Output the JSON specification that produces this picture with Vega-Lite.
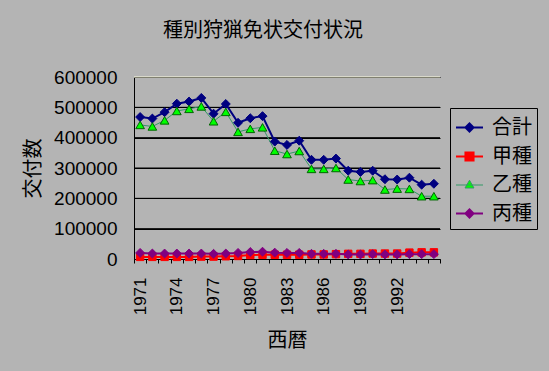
{
  "$schema": "https://vega.github.io/schema/vega-lite/v6.json",
  "width": 306,
  "height": 182,
  "autosize": {"type": "none"},
  "padding": {"left": 134, "top": 77, "right": 109, "bottom": 112},
  "background": "#b4b4b4",
  "title": {"text": "種別狩猟免状交付状況", "fontSize": 20, "font": "Noto Sans CJK JP", "fontWeight": "normal", "color": "black", "anchor": "middle", "frame": "group", "dx": -24, "offset": 27},
  "config": {"view": {"stroke": null, "fill": "#b4b4b4"}, "font": "Liberation Sans"},
  "data": {"values": [
    {"year": 1971, "series": "合計", "value": 468000},
    {"year": 1972, "series": "合計", "value": 463000},
    {"year": 1973, "series": "合計", "value": 484000},
    {"year": 1974, "series": "合計", "value": 512000},
    {"year": 1975, "series": "合計", "value": 519000},
    {"year": 1976, "series": "合計", "value": 531000},
    {"year": 1977, "series": "合計", "value": 479000},
    {"year": 1978, "series": "合計", "value": 511000},
    {"year": 1979, "series": "合計", "value": 449000},
    {"year": 1980, "series": "合計", "value": 464000},
    {"year": 1981, "series": "合計", "value": 471000},
    {"year": 1982, "series": "合計", "value": 387000},
    {"year": 1983, "series": "合計", "value": 376000},
    {"year": 1984, "series": "合計", "value": 390000},
    {"year": 1985, "series": "合計", "value": 327000},
    {"year": 1986, "series": "合計", "value": 327000},
    {"year": 1987, "series": "合計", "value": 331000},
    {"year": 1988, "series": "合計", "value": 291000},
    {"year": 1989, "series": "合計", "value": 287000},
    {"year": 1990, "series": "合計", "value": 291000},
    {"year": 1991, "series": "合計", "value": 263000},
    {"year": 1992, "series": "合計", "value": 262000},
    {"year": 1993, "series": "合計", "value": 268000},
    {"year": 1994, "series": "合計", "value": 245000},
    {"year": 1995, "series": "合計", "value": 248000},
    {"year": 1971, "series": "甲種", "value": 7000},
    {"year": 1972, "series": "甲種", "value": 7000},
    {"year": 1973, "series": "甲種", "value": 7000},
    {"year": 1974, "series": "甲種", "value": 7000},
    {"year": 1975, "series": "甲種", "value": 7000},
    {"year": 1976, "series": "甲種", "value": 8000},
    {"year": 1977, "series": "甲種", "value": 8000},
    {"year": 1978, "series": "甲種", "value": 9000},
    {"year": 1979, "series": "甲種", "value": 10000},
    {"year": 1980, "series": "甲種", "value": 13000},
    {"year": 1981, "series": "甲種", "value": 14000},
    {"year": 1982, "series": "甲種", "value": 14000},
    {"year": 1983, "series": "甲種", "value": 14000},
    {"year": 1984, "series": "甲種", "value": 14000},
    {"year": 1985, "series": "甲種", "value": 15000},
    {"year": 1986, "series": "甲種", "value": 15000},
    {"year": 1987, "series": "甲種", "value": 16000},
    {"year": 1988, "series": "甲種", "value": 17000},
    {"year": 1989, "series": "甲種", "value": 17000},
    {"year": 1990, "series": "甲種", "value": 18000},
    {"year": 1991, "series": "甲種", "value": 18000},
    {"year": 1992, "series": "甲種", "value": 18000},
    {"year": 1993, "series": "甲種", "value": 21000},
    {"year": 1994, "series": "甲種", "value": 22000},
    {"year": 1995, "series": "甲種", "value": 22000},
    {"year": 1971, "series": "乙種", "value": 442000},
    {"year": 1972, "series": "乙種", "value": 437000},
    {"year": 1973, "series": "乙種", "value": 457000},
    {"year": 1974, "series": "乙種", "value": 488000},
    {"year": 1975, "series": "乙種", "value": 495000},
    {"year": 1976, "series": "乙種", "value": 503000},
    {"year": 1977, "series": "乙種", "value": 454000},
    {"year": 1978, "series": "乙種", "value": 485000},
    {"year": 1979, "series": "乙種", "value": 419000},
    {"year": 1980, "series": "乙種", "value": 429000},
    {"year": 1981, "series": "乙種", "value": 434000},
    {"year": 1982, "series": "乙種", "value": 357000},
    {"year": 1983, "series": "乙種", "value": 346000},
    {"year": 1984, "series": "乙種", "value": 356000},
    {"year": 1985, "series": "乙種", "value": 297000},
    {"year": 1986, "series": "乙種", "value": 297000},
    {"year": 1987, "series": "乙種", "value": 300000},
    {"year": 1988, "series": "乙種", "value": 262000},
    {"year": 1989, "series": "乙種", "value": 257000},
    {"year": 1990, "series": "乙種", "value": 260000},
    {"year": 1991, "series": "乙種", "value": 229000},
    {"year": 1992, "series": "乙種", "value": 232000},
    {"year": 1993, "series": "乙種", "value": 231000},
    {"year": 1994, "series": "乙種", "value": 207000},
    {"year": 1995, "series": "乙種", "value": 207000},
    {"year": 1971, "series": "丙種", "value": 20000},
    {"year": 1972, "series": "丙種", "value": 18000},
    {"year": 1973, "series": "丙種", "value": 18000},
    {"year": 1974, "series": "丙種", "value": 18000},
    {"year": 1975, "series": "丙種", "value": 18000},
    {"year": 1976, "series": "丙種", "value": 18000},
    {"year": 1977, "series": "丙種", "value": 17000},
    {"year": 1978, "series": "丙種", "value": 18000},
    {"year": 1979, "series": "丙種", "value": 20000},
    {"year": 1980, "series": "丙種", "value": 23000},
    {"year": 1981, "series": "丙種", "value": 24000},
    {"year": 1982, "series": "丙種", "value": 21000},
    {"year": 1983, "series": "丙種", "value": 20000},
    {"year": 1984, "series": "丙種", "value": 20000},
    {"year": 1985, "series": "丙種", "value": 17000},
    {"year": 1986, "series": "丙種", "value": 17000},
    {"year": 1987, "series": "丙種", "value": 17000},
    {"year": 1988, "series": "丙種", "value": 15000},
    {"year": 1989, "series": "丙種", "value": 15000},
    {"year": 1990, "series": "丙種", "value": 16000},
    {"year": 1991, "series": "丙種", "value": 15000},
    {"year": 1992, "series": "丙種", "value": 15000},
    {"year": 1993, "series": "丙種", "value": 16000},
    {"year": 1994, "series": "丙種", "value": 16000},
    {"year": 1995, "series": "丙種", "value": 16000}
  ]},
  "encoding": {
    "y": {"field": "value", "type": "quantitative",
      "scale": {"domain": [0, 600000], "nice": false},
      "axis": {"title": "交付数", "titleFont": "Noto Sans CJK JP", "titleFontSize": 20, "titleFontWeight": "normal", "titleColor": "black", "titlePadding": 10,
        "tickCount": 6, "format": "d", "labelOverlap": false, "labelSeparation": 0, "labelFlush": false,
        "labelFontSize": 19, "labelFont": "Liberation Sans", "labelColor": "black",
        "grid": true, "gridColor": "black", "gridOpacity": 1, "gridWidth": 1, "domainColor": "black", "ticks": false, "labelPadding": 17}}
  },
  "layer": [
    {
      "data": {"values": [{"value": 100000}, {"value": 200000}, {"value": 300000}, {"value": 400000}, {"value": 500000}]},
      "mark": {"type": "rule", "color": "black", "strokeWidth": 1},
      "encoding": {}
    },
    {
      "mark": {"type": "line"},
      "encoding": {
        "x": {"field": "year", "type": "ordinal", "bandPosition": 0.5,
          "scale": {"type": "band", "paddingInner": 0, "paddingOuter": 0},
          "axis": {"title": "西暦", "titleFont": "Noto Sans CJK JP", "titleFontSize": 20, "titleFontWeight": "normal", "titleColor": "black", "titlePadding": 16,
            "labelAngle": -90, "labelFontSize": 17, "labelFont": "Liberation Sans", "labelColor": "black", "labelOverlap": false,
            "labelExpr": "(datum.value - 1971) % 3 === 0 && datum.value < 1995 ? datum.label : ''",
            "tickBand": "extent", "tickColor": "black", "tickSize": 4, "domainColor": "black", "labelPadding": 14, "grid": false}},
        "color": {"field": "series", "type": "nominal",
          "scale": {"domain": ["合計", "甲種", "乙種", "丙種"], "range": ["#000080", "#ff0000", "#339966", "#800080"]},
          "legend": {"title": null, "orient": "none", "legendX": 316, "legendY": 31, "strokeColor": "black", "padding": 5,
            "labelFontSize": 20, "labelFont": "Noto Sans CJK JP", "labelColor": "black", "symbolSize": 729, "rowPadding": 4, "labelOffset": 8,
            "encoding": {"symbols": {
              "shape": {"value": {"expr": "datum.value === '甲種' ? 'M-1,0H1M-0.3,-0.3H0.3V0.3H-0.3Z' : datum.value === '乙種' ? 'M-1,0H1M-0.33,0.22L0,-0.35L0.33,0.22Z' : 'M-1,0H1M-0.3,0L0,-0.3L0.3,0L0,0.3Z'"}},
              "fill": {"value": {"expr": "datum.value === '乙種' ? '#00ff00' : datum.value === '甲種' ? '#ff0000' : datum.value === '丙種' ? '#800080' : '#000080'"}},
              "strokeWidth": {"value": {"expr": "datum.value === '乙種' ? 1 : 2"}},
              "opacity": {"value": 1}
            }}}},
        "strokeWidth": {"field": "series", "type": "nominal",
          "scale": {"type": "ordinal", "domain": ["合計", "甲種", "乙種", "丙種"], "range": [2, 2, 1, 2]}, "legend": null}
      }
    },
    {
      "transform": [{"filter": "datum.series === '合計'"}],
      "mark": {"type": "point", "shape": "diamond", "filled": true, "opacity": 1, "fill": "#000080", "stroke": "#000080", "strokeWidth": 1, "size": 80},
      "encoding": {"x": {"field": "year", "type": "ordinal", "bandPosition": 0.5}}
    },
    {
      "transform": [{"filter": "datum.series === '甲種'"}],
      "mark": {"type": "point", "shape": "square", "filled": true, "opacity": 1, "fill": "#ff0000", "stroke": "#ff0000", "strokeWidth": 1, "size": 55},
      "encoding": {"x": {"field": "year", "type": "ordinal", "bandPosition": 0.5}}
    },
    {
      "transform": [{"filter": "datum.series === '乙種'"}],
      "mark": {"type": "point", "shape": "triangle-up", "filled": true, "opacity": 1, "fill": "#00ff00", "stroke": "#006600", "strokeWidth": 1, "size": 75},
      "encoding": {"x": {"field": "year", "type": "ordinal", "bandPosition": 0.5}}
    },
    {
      "transform": [{"filter": "datum.series === '丙種'"}],
      "mark": {"type": "point", "shape": "diamond", "filled": true, "opacity": 1, "fill": "#800080", "stroke": "#800080", "strokeWidth": 1, "size": 80},
      "encoding": {"x": {"field": "year", "type": "ordinal", "bandPosition": 0.5}}
    },
    {
      "data": {"values": [{"value": 600000}]},
      "mark": {"type": "rule", "color": "#ffffe0", "strokeWidth": 1},
      "encoding": {}
    }
  ]
}
